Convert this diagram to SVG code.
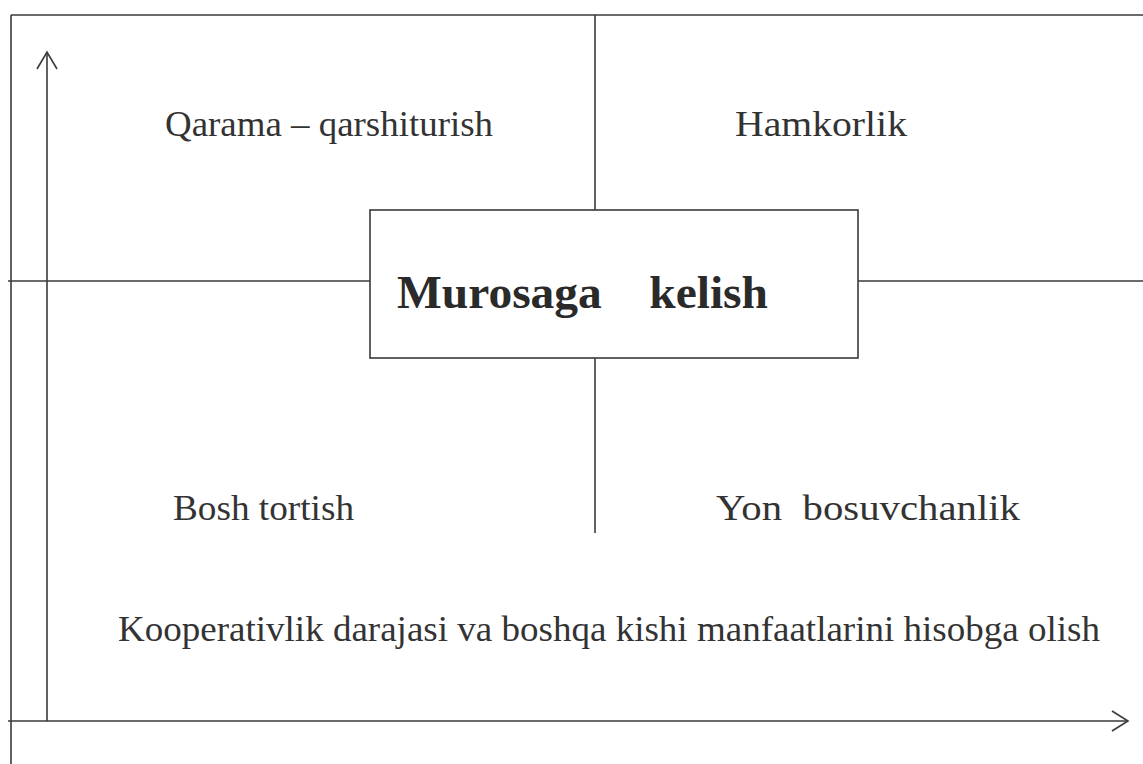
<svg xmlns="http://www.w3.org/2000/svg" width="1143" height="764" viewBox="0 0 1143 764">
<style>
.ln{stroke:#3a3a3a;stroke-width:1.6;fill:none}
.t{font-family:"Liberation Serif",serif;fill:#333;font-size:36px}
.b{font-family:"Liberation Serif",serif;fill:#2a2a2a;font-size:47px;font-weight:bold}
</style>
<rect width="1143" height="764" fill="#fff"/>
<g id="connectors">
<line class="ln" x1="11" y1="15" x2="1143" y2="15"/>
<line class="ln" x1="11" y1="15" x2="11" y2="764"/>
<line class="ln" x1="595" y1="15" x2="595" y2="210"/>
<line class="ln" x1="595" y1="358" x2="595" y2="533"/>
<line class="ln" x1="8" y1="281" x2="370" y2="281"/>
<line class="ln" x1="858" y1="281" x2="1143" y2="281"/>
<line class="ln" x1="47" y1="52" x2="47" y2="721"/>
<polyline class="ln" points="37,69 47,52 57,69"/>
<line class="ln" x1="8" y1="721" x2="1128" y2="721"/>
<polyline class="ln" points="1112,711 1128,721 1112,731"/>
</g>
<g id="node-center">
<rect class="ln" x="370" y="210" width="488" height="148"/>
<text class="b" x="397" y="308" textLength="371" lengthAdjust="spacingAndGlyphs" xml:space="preserve">Murosaga    kelish</text>
</g>
<g id="node-qarama"><text class="t" x="165" y="136" textLength="328" lengthAdjust="spacingAndGlyphs">Qarama – qarshiturish</text></g>
<g id="node-hamkorlik"><text class="t" x="735" y="136" textLength="172" lengthAdjust="spacingAndGlyphs">Hamkorlik</text></g>
<g id="node-bosh"><text class="t" x="173" y="520" textLength="181" lengthAdjust="spacingAndGlyphs">Bosh tortish</text></g>
<g id="node-yon"><text class="t" x="716" y="520" textLength="304" lengthAdjust="spacingAndGlyphs" xml:space="preserve">Yon  bosuvchanlik</text></g>
<g id="node-axis"><text class="t" x="118" y="641" font-size="35" textLength="982" lengthAdjust="spacingAndGlyphs">Kooperativlik darajasi va boshqa kishi manfaatlarini hisobga olish</text></g>
</svg>
